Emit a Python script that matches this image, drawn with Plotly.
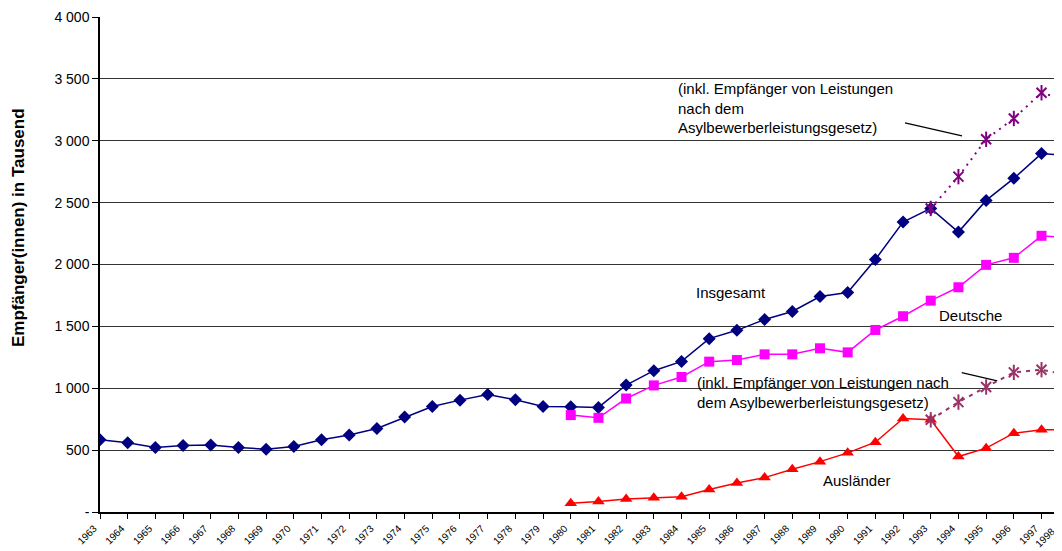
import plotly.graph_objects as go

years_all = list(range(1963, 1999))
insgesamt = [583, 559, 521, 537, 542, 521, 508, 529, 583, 623, 675, 767, 853, 904, 950, 907, 853,
             850, 845, 1026, 1142, 1217, 1401, 1468, 1555, 1620, 1741, 1773, 2040, 2343, 2453,
             2262, 2518, 2696, 2896, 2880]

years_80 = list(range(1980, 1999))
deutsche = [783, 761, 917, 1023, 1091, 1215, 1228, 1274, 1274, 1323, 1290, 1471, 1582, 1708,
            1816, 1997, 2054, 2232, 2215]
auslaender = [70, 84, 105, 116, 124, 181, 235, 278, 346, 407, 478, 564, 756, 745,
              448, 516, 637, 664, 664]

years_93 = list(range(1993, 1999))
insg_asyl = [2453, 2710, 3012, 3180, 3388, 3320]
ausl_asyl = [745, 888, 1010, 1128, 1150, 1105]

y_ticks = [0, 500, 1000, 1500, 2000, 2500, 3000, 3500, 4000]
y_ticktext = ["-", "500", "1 000", "1 500", "2 000", "2 500", "3 000", "3 500", "4 000"]
x_ticks = years_all

FONT = "Liberation Sans, Arial, sans-serif"

fig = go.Figure()

# asylum lines (behind)
fig.add_trace(go.Scatter(x=years_93, y=insg_asyl, mode="lines",
                         line=dict(color="#800080", width=2, dash="2px,5px"), showlegend=False))
fig.add_trace(go.Scatter(x=years_93, y=ausl_asyl, mode="lines",
                         line=dict(color="#993366", width=2, dash="4px,5px"), showlegend=False))

fig.add_trace(go.Scatter(x=years_all, y=insgesamt, mode="lines+markers",
                         line=dict(color="#000080", width=1.5),
                         marker=dict(symbol="diamond", size=10, color="#000080"), showlegend=False))
fig.add_trace(go.Scatter(x=years_80, y=deutsche, mode="lines+markers",
                         line=dict(color="#FF00FF", width=1.5),
                         marker=dict(symbol="square", size=10, color="#FF00FF"), showlegend=False))
fig.add_trace(go.Scatter(x=years_80, y=auslaender, mode="lines+markers",
                         line=dict(color="#FF0000", width=1.5),
                         marker=dict(symbol="triangle-up", size=11, color="#FF0000"), showlegend=False))

# star markers (x + vertical line)
for ys, col in [(insg_asyl, "#800080"), (ausl_asyl, "#993366")]:
    fig.add_trace(go.Scatter(x=years_93, y=ys, mode="markers",
                             marker=dict(symbol="x-thin-open", size=10, color=col,
                                         line=dict(color=col, width=2)),
                             showlegend=False))
    fig.add_trace(go.Scatter(x=years_93, y=ys, mode="markers",
                             marker=dict(symbol="line-ns-open", size=11, color=col,
                                         line=dict(color=col, width=2)),
                             showlegend=False))

ann_font = dict(family=FONT, size=15, color="#000000")
annotations = [
    dict(x=1983.8, y=3505, xref="x", yref="y", xanchor="left", yanchor="top", align="left",
         text="(inkl. Empfänger von Leistungen<br>nach dem<br>Asylbewerberleistungsgesetz)",
         showarrow=False, font=ann_font),
    dict(x=1984.45, y=1770, xref="x", yref="y", xanchor="left", yanchor="middle",
         text="Insgesamt", showarrow=False, font=ann_font),
    dict(x=1993.23, y=1584, xref="x", yref="y", xanchor="left", yanchor="middle",
         text="Deutsche", showarrow=False, font=ann_font),
    dict(x=1984.49, y=962, xref="x", yref="y", xanchor="left", yanchor="middle", align="left",
         text="(inkl. Empfänger von Leistungen nach<br>dem Asylbewerberleistungsgesetz)",
         showarrow=False, font=ann_font),
    dict(x=1989.05, y=251, xref="x", yref="y", xanchor="left", yanchor="middle",
         text="Ausländer", showarrow=False, font=ann_font),
    dict(x=1997.67, y=-0.022, xref="x", yref="paper", xanchor="right", yanchor="top",
         text="1998", textangle=-45, showarrow=False,
         font=dict(family=FONT, size=10, color="#000000")),
    dict(x=-0.0852, y=0.5737, xref="paper", yref="paper", xanchor="center", yanchor="middle",
         text="<b>Empfänger(innen) in Tausend</b>", textangle=-90, showarrow=False,
         font=dict(family=FONT, size=17, color="#000000")),
]

shapes = [
    dict(type="line", xref="x", yref="y", x0=1992.07, y0=3145, x1=1994.13, y1=3040,
         line=dict(color="#000000", width=1.2)),
    dict(type="line", xref="x", yref="y", x0=1994.12, y0=1126, x1=1995.40, y1=1059,
         line=dict(color="#000000", width=1.2)),
]

fig.update_layout(
    width=1054, height=543,
    margin=dict(l=92, r=0, t=9, b=39, pad=0),
    paper_bgcolor="white", plot_bgcolor="white",
    font=dict(family=FONT, color="#000000"),
    annotations=annotations, shapes=shapes,
)
fig.update_xaxes(range=[1963, 1997.74], tickmode="array", tickvals=x_ticks,
                 ticktext=[str(v) for v in x_ticks], tickangle=-45,
                 tickfont=dict(family=FONT, size=10), showgrid=False, zeroline=False,
                 showline=True, linecolor="#000000", linewidth=1.5,
                 ticks="outside", ticklen=5, tickcolor="#000000", ticklabelshift=-6)
fig.update_yaxes(range=[0, 4000], tickmode="array", tickvals=y_ticks, ticktext=y_ticktext,
                 tickfont=dict(family=FONT, size=14), showgrid=True, gridcolor="#333333",
                 gridwidth=1, zeroline=False, showline=True, linecolor="#000000", linewidth=1.5,
                 ticks="outside", ticklen=6, tickcolor="#000000")

fig.write_html("out.html")
